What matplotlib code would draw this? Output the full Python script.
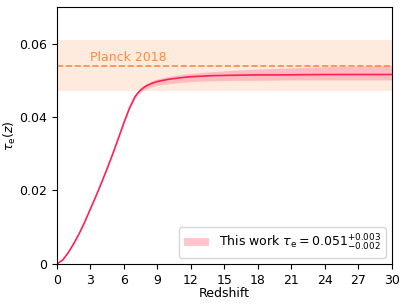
import numpy as np
import matplotlib.pyplot as plt

# optical depth
z = [0, 0.5, 1, 1.5, 2, 2.5, 3, 3.5, 4, 4.5, 5, 5.5, 6, 6.5, 7, 7.25, 7.5, 7.75,
     8, 8.5, 9, 10, 11, 12, 14, 16, 18, 20, 24, 30]
tau = [0, 0.0010, 0.0030, 0.0055, 0.0083, 0.0115, 0.0150, 0.0185, 0.0222, 0.0260,
       0.0300, 0.0342, 0.0385, 0.0425, 0.0456, 0.0466, 0.0474, 0.0480,
       0.0485, 0.0492, 0.0497, 0.0503, 0.0507, 0.0510, 0.0513, 0.0514, 0.0515, 0.0515, 0.0516, 0.0516]
tau_hi = [0, 0.0010, 0.0030, 0.0055, 0.0083, 0.0115, 0.0150, 0.0185, 0.0222, 0.0260,
          0.0300, 0.0342, 0.0386, 0.0427, 0.0459, 0.0470, 0.0479, 0.0486,
          0.0491, 0.0499, 0.0504, 0.0511, 0.0516, 0.0519, 0.0524, 0.0528, 0.0531, 0.0533, 0.0537, 0.0541]
tau_lo = [0, 0.0010, 0.0030, 0.0055, 0.0083, 0.0115, 0.0150, 0.0185, 0.0222, 0.0260,
          0.0300, 0.0342, 0.0384, 0.0422, 0.0452, 0.0461, 0.0468, 0.0473,
          0.0477, 0.0483, 0.0487, 0.0491, 0.0494, 0.0497, 0.0499, 0.0500, 0.0500, 0.0501, 0.0501, 0.0501]

planck_tau = 0.054
planck_err = 0.007

fig, ax = plt.subplots(figsize=(4.07, 3.05), dpi=100)

ax.axhspan(planck_tau - planck_err, planck_tau + planck_err, color='#ff9a5a', alpha=0.2, lw=0)
ax.axhline(planck_tau, color='#ff8a40', ls='--', lw=1.2)
ax.text(3.0, 0.0553, 'Planck 2018', color='#ff8a40', fontsize=9)

ax.fill_between(z, tau_lo, tau_hi, color='#ff8fa3', alpha=0.5, lw=0,
                label=r'This work $\tau_{\rm e}=0.051^{+0.003}_{-0.002}$')
ax.plot(z, tau, color='#ff1f55', lw=1.2)

ax.set_xlim(0, 30)
ax.set_ylim(0, 0.07)
ax.set_xticks(np.arange(0, 31, 3))
ax.set_yticks([0, 0.02, 0.04, 0.06])
ax.set_yticklabels(['0', '0.02', '0.04', '0.06'])
ax.tick_params(labelsize=9)
ax.set_xlabel('Redshift', fontsize=9, labelpad=0)
ax.set_ylabel(r'$\tau_{\rm e}(z)$', fontsize=9, labelpad=1)
ax.legend(loc='lower right', fontsize=9, handlelength=2.0)

plt.subplots_adjust(left=0.14, right=0.963, top=0.977, bottom=0.135)
fig.savefig('out.png', dpi=100)
